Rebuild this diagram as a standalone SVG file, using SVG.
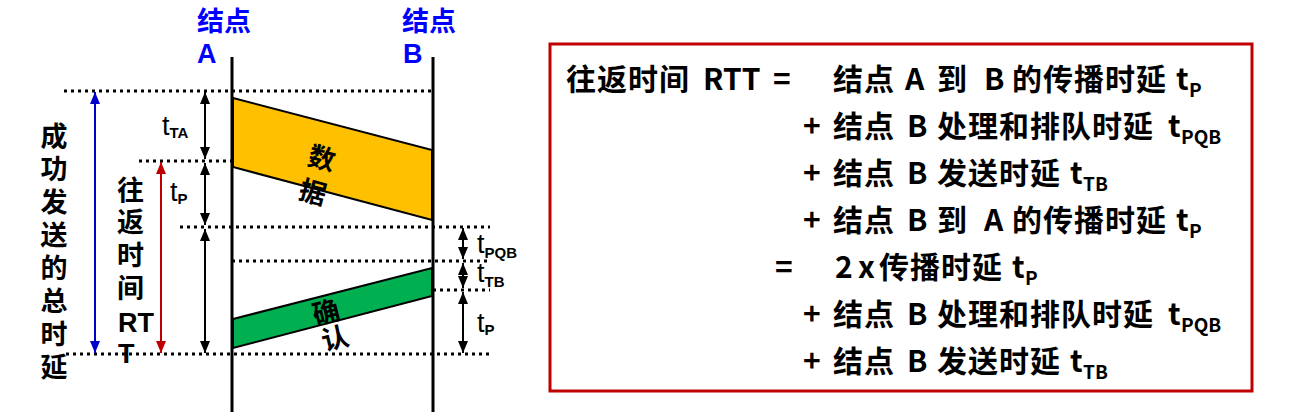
<svg xmlns="http://www.w3.org/2000/svg" width="1290" height="412" viewBox="0 0 1290 412">
<style>
.f { font-family: 'Liberation Sans','Noto Sans CJK SC',sans-serif; font-weight: bold; }
.n { font-family: 'Noto Sans CJK SC',sans-serif; font-weight: bold; }
.blue { fill: #0000FF; font-size: 27px; }
.lbl { font-size: 27px; fill: #000; }
.box { font-size: 30px; fill: #000; }
.cj { letter-spacing: 1px; }
.sub { font-size: 19px; }
.t { font-family: 'Liberation Sans',sans-serif; font-weight: normal; font-size: 27px; fill: #000; }
.ts { font-weight: bold; font-size: 15px; }
.dot { stroke: #000; stroke-width: 3; stroke-dasharray: 3 4; fill: none; }
.life { stroke: #000; stroke-width: 3; fill: none; }
.pkt { stroke: #000; stroke-width: 2; }
.ak { stroke: #000; stroke-width: 2; fill: none; marker-start: url(#hk); marker-end: url(#hk); }
.ab { stroke: #0000CC; stroke-width: 2; fill: none; marker-start: url(#hb); marker-end: url(#hb); }
.ar { stroke: #C00000; stroke-width: 2; fill: none; marker-start: url(#hr); marker-end: url(#hr); }
</style>
<defs>
<marker id="hk" markerUnits="userSpaceOnUse" markerWidth="12" markerHeight="10" refX="12" refY="5" orient="auto-start-reverse"><path d="M0,0 L12,5 L0,10 z" fill="#000"/></marker>
<marker id="hb" markerUnits="userSpaceOnUse" markerWidth="12" markerHeight="10" refX="12" refY="5" orient="auto-start-reverse"><path d="M0,0 L12,5 L0,10 z" fill="#0000CC"/></marker>
<marker id="hr" markerUnits="userSpaceOnUse" markerWidth="12" markerHeight="10" refX="12" refY="5" orient="auto-start-reverse"><path d="M0,0 L12,5 L0,10 z" fill="#C00000"/></marker>
</defs>

<g id="nodeA">
<line class="life" x1="232" y1="57" x2="232" y2="412"/>
<text class="f blue" x="197" y="31">结点</text>
<text class="f blue" x="197" y="63">A</text>
</g>
<g id="nodeB">
<line class="life" x1="433" y1="57" x2="433" y2="412"/>
<text class="f blue" x="402" y="31">结点</text>
<text class="f blue" x="403" y="63">B</text>
</g>

<g id="data">
<polygon class="pkt" fill="#FFC000" points="233,98 432,150 432,220 233,167"/>
<text class="f lbl" font-size="26" x="322" y="168" text-anchor="middle" transform="rotate(15 322 158)">数</text>
<text class="f lbl" font-size="26" x="313" y="202" text-anchor="middle" transform="rotate(15 313 192)">据</text>
</g>
<g id="ack">
<polygon class="pkt" fill="#00B050" points="233,319 432,268 432,296 233,348"/>
<text class="f lbl" font-size="26" x="326" y="322" text-anchor="middle" transform="rotate(-14 326 312)">确</text>
<text class="f lbl" font-size="26" x="335" y="348" text-anchor="middle" transform="rotate(-14 335 338)">认</text>
</g>

<g id="connectors">
<line class="dot" x1="64" y1="91" x2="433" y2="91"/>
<line class="dot" x1="139" y1="161" x2="232" y2="161"/>
<line class="dot" x1="180" y1="227" x2="490" y2="227"/>
<line class="dot" x1="232" y1="261" x2="490" y2="261"/>
<line class="dot" x1="433" y1="290" x2="490" y2="290"/>
<line class="dot" x1="66" y1="354" x2="490" y2="354"/>
<line class="ab" x1="95" y1="92" x2="95" y2="353"/>
<line class="ar" x1="161" y1="162" x2="161" y2="353"/>
<line class="ak" x1="205" y1="92" x2="205" y2="159"/>
<line class="ak" x1="205" y1="163" x2="205" y2="225"/>
<line class="ak" x1="205" y1="229" x2="205" y2="353"/>
<line class="ak" x1="463" y1="228" x2="463" y2="259"/>
<line class="ak" x1="463" y1="263" x2="463" y2="288"/>
<line class="ak" x1="463" y1="292" x2="463" y2="353"/>
</g>

<g id="labels">
<text class="f lbl" text-anchor="middle">
<tspan x="54" y="146">成</tspan><tspan x="54" y="179">功</tspan><tspan x="54" y="212">发</tspan><tspan x="54" y="245">送</tspan><tspan x="54" y="278">的</tspan><tspan x="54" y="311">总</tspan><tspan x="54" y="344">时</tspan><tspan x="54" y="377">延</tspan>
</text>
<text class="f lbl">
<tspan x="117" y="200">往</tspan><tspan x="117" y="232">返</tspan><tspan x="117" y="265">时</tspan><tspan x="117" y="298">间</tspan><tspan x="118" y="332">RT</tspan><tspan x="118" y="363">T</tspan>
</text>
<text class="t" x="162" y="135">t<tspan class="ts" dy="3">TA</tspan></text>
<text class="t" x="170" y="201">t<tspan class="ts" dy="3">P</tspan></text>
<text class="t" x="477" y="253">t<tspan class="ts" dy="5">PQB</tspan></text>
<text class="t" x="477" y="282">t<tspan class="ts" dy="5">TB</tspan></text>
<text class="t" x="477" y="332">t<tspan class="ts" dy="3">P</tspan></text>
</g>

<g id="formula">
<rect x="550" y="44" width="702" height="347" fill="none" stroke="#C00000" stroke-width="3"/>
<text class="n box" y="90"><tspan class="cj" x="566">往返时间</tspan><tspan x="703">RTT</tspan><tspan x="773">=</tspan><tspan class="cj" x="833">结点</tspan><tspan x="905">A</tspan><tspan x="937">到</tspan><tspan x="984">B</tspan><tspan class="cj" x="1012">的传播时延</tspan><tspan x="1176">t</tspan><tspan class="sub" x="1189" dy="7">P</tspan></text>
<text class="n box" y="137"><tspan x="803">+</tspan><tspan class="cj" x="833">结点</tspan><tspan x="907">B</tspan><tspan class="cj" x="937">处理和排队时延</tspan><tspan x="1168">t</tspan><tspan class="sub" x="1181" dy="7">PQB</tspan></text>
<text class="n box" y="184"><tspan x="803">+</tspan><tspan class="cj" x="833">结点</tspan><tspan x="907">B</tspan><tspan class="cj" x="937">发送时延</tspan><tspan x="1070">t</tspan><tspan class="sub" x="1083" dy="7">TB</tspan></text>
<text class="n box" y="231"><tspan x="803">+</tspan><tspan class="cj" x="833">结点</tspan><tspan x="907">B</tspan><tspan x="937">到</tspan><tspan x="984">A</tspan><tspan class="cj" x="1012">的传播时延</tspan><tspan x="1176">t</tspan><tspan class="sub" x="1189" dy="7">P</tspan></text>
<text class="n box" y="278"><tspan x="775">=</tspan><tspan x="835">2</tspan><tspan x="858">x</tspan><tspan class="cj" x="879">传播时延</tspan><tspan x="1012">t</tspan><tspan class="sub" x="1025" dy="7">P</tspan></text>
<text class="n box" y="325"><tspan x="803">+</tspan><tspan class="cj" x="833">结点</tspan><tspan x="907">B</tspan><tspan class="cj" x="937">处理和排队时延</tspan><tspan x="1168">t</tspan><tspan class="sub" x="1181" dy="7">PQB</tspan></text>
<text class="n box" y="372"><tspan x="803">+</tspan><tspan class="cj" x="833">结点</tspan><tspan x="907">B</tspan><tspan class="cj" x="937">发送时延</tspan><tspan x="1070">t</tspan><tspan class="sub" x="1083" dy="7">TB</tspan></text>
</g>
</svg>
